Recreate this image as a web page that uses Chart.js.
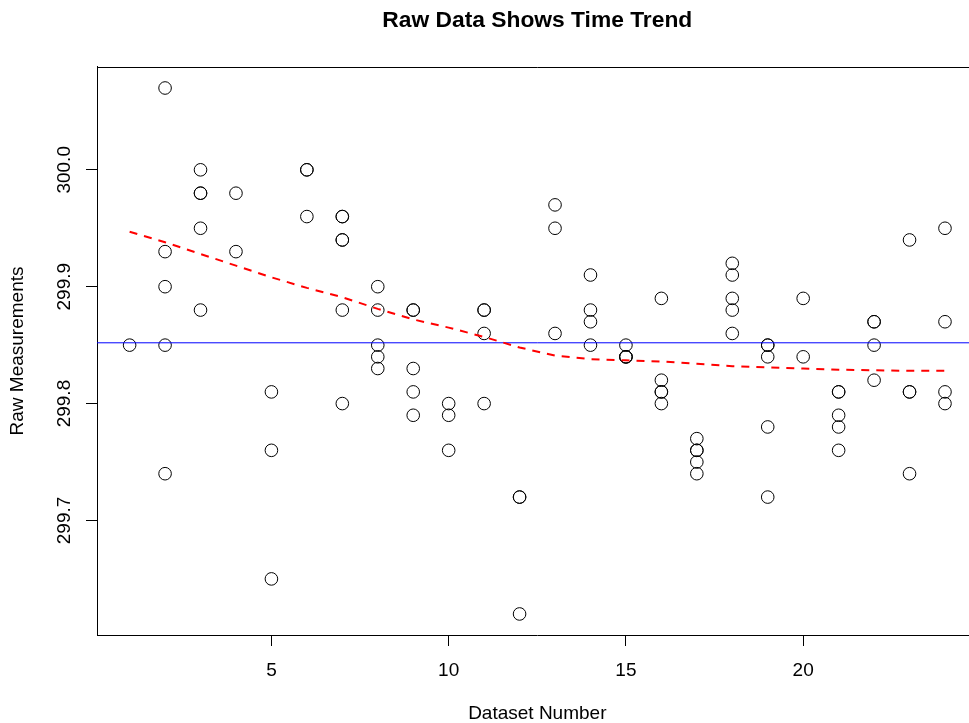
<!DOCTYPE html>
<html>
<head>
<meta charset="utf-8">
<title>Raw Data Shows Time Trend</title>
<script src="https://cdn.jsdelivr.net/npm/chart.js@4"></script>
<style>
  html, body { margin: 0; padding: 0; background: #fff; overflow: hidden; }
  #wrap { width: 1027px; height: 723px; }
</style>
</head>
<body>
<div id="wrap"><canvas id="trendChart" width="1027" height="723"></canvas></div>
<script>
// raw measurements, one entry per run (x = dataset number)
const datasetNumber = [
  1,
  2, 2, 2, 2, 2,
  3, 3, 3, 3, 3,
  4, 4,
  5, 5, 5,
  6, 6, 6,
  7, 7, 7, 7, 7, 7,
  8, 8, 8, 8, 8,
  9, 9, 9, 9, 9,
  10, 10, 10,
  11, 11, 11, 11,
  12, 12, 12,
  13, 13, 13,
  14, 14, 14, 14,
  15, 15, 15, 15,
  16, 16, 16, 16, 16,
  17, 17, 17, 17, 17,
  18, 18, 18, 18, 18,
  19, 19, 19, 19, 19,
  20, 20,
  21, 21, 21, 21, 21,
  22, 22, 22, 22,
  23, 23, 23, 23,
  24, 24, 24, 24
];
const measurement = [
  299.85,
  300.07, 299.93, 299.90, 299.85, 299.74,
  300.00, 299.98, 299.98, 299.95, 299.88,
  299.98, 299.93,
  299.81, 299.76, 299.65,
  300.00, 300.00, 299.96,
  299.96, 299.96, 299.94, 299.94, 299.88, 299.80,
  299.90, 299.88, 299.85, 299.84, 299.83,
  299.88, 299.88, 299.83, 299.81, 299.79,
  299.80, 299.79, 299.76,
  299.88, 299.88, 299.86, 299.80,
  299.72, 299.72, 299.62,
  299.97, 299.95, 299.86,
  299.91, 299.88, 299.87, 299.85,
  299.85, 299.84, 299.84, 299.84,
  299.89, 299.82, 299.81, 299.81, 299.80,
  299.77, 299.76, 299.76, 299.75, 299.74,
  299.92, 299.91, 299.89, 299.88, 299.86,
  299.85, 299.85, 299.84, 299.78, 299.72,
  299.89, 299.84,
  299.81, 299.81, 299.79, 299.78, 299.76,
  299.87, 299.87, 299.85, 299.82,
  299.94, 299.81, 299.81, 299.74,
  299.95, 299.87, 299.81, 299.80
];

// smoothed trend (lowess)
const smoothX = [1, 2, 3, 4, 5, 6, 7, 8, 9, 10, 11, 12, 13, 14, 15, 16, 17, 18, 19, 20, 21, 22, 23, 24];
const smoothY = [
  299.947, 299.938, 299.928, 299.918, 299.908, 299.899, 299.891, 299.881,
  299.872, 299.865, 299.857, 299.848, 299.841, 299.838, 299.837, 299.836,
  299.834, 299.832, 299.831, 299.830, 299.829, 299.8285, 299.828, 299.828
];

// overall mean (blue reference line)
const meanValue = 299.852;

const xTicks = [5, 10, 15, 20];
const yTicks = [299.7, 299.8, 299.9, 300.0];

// R-style axis limits: data range padded by 4%
const padRange = (arr) => {
    const lo = Math.min(...arr), hi = Math.max(...arr);
    const pad = (hi - lo) * 0.04;
    return [lo - pad, hi + pad];
};
const [xMin, xMax] = padRange(datasetNumber);
const [yMin, yMax] = padRange(measurement);

const baseFont = { family: "'Liberation Sans', Arial, Helvetica, sans-serif", size: 19 };

// top edge of the box round the plot region (left/bottom come from the axis borders)
const framePlugin = {
    id: 'frame',
    afterDraw(chart) {
        const { ctx, chartArea: a } = chart;
        const top = Math.round(a.top) + 0.5;
        ctx.save();
        ctx.strokeStyle = '#000';
        ctx.lineWidth = 1;
        ctx.beginPath();
        ctx.moveTo(a.left, top);
        ctx.lineTo(a.right, top);
        ctx.lineTo(a.right, a.bottom);
        ctx.stroke();
        ctx.restore();
    }
};

const renderChart = () => {
    const ctx = document.getElementById('trendChart').getContext('2d');
    const points = datasetNumber.map((x, i) => ({ x, y: measurement[i] }));
    const trend = smoothX.map((x, i) => ({ x, y: smoothY[i] }));

    new Chart(ctx, {
        type: 'scatter',
        data: {
            datasets: [
                {
                    label: 'Measurements',
                    data: points,
                    order: 3,
                    pointStyle: 'circle',
                    pointRadius: 6.3,
                    pointBorderWidth: 1,
                    pointBorderColor: '#000',
                    pointBackgroundColor: 'rgba(0,0,0,0)',
                    showLine: false
                },
                {
                    label: 'Mean',
                    type: 'line',
                    data: [{ x: xMin, y: meanValue }, { x: xMax, y: meanValue }],
                    order: 2,
                    borderColor: '#0000ff',
                    borderWidth: 1,
                    pointRadius: 0,
                    fill: false
                },
                {
                    label: 'Lowess',
                    type: 'line',
                    data: trend,
                    order: 1,
                    borderColor: '#ff0000',
                    borderWidth: 2,
                    borderDash: [8, 7],
                    tension: 0,
                    pointRadius: 0,
                    fill: false
                }
            ]
        },
        options: {
            responsive: false,
            animation: false,
            events: [],
            layout: { padding: { left: 0, right: 49.4, top: 0, bottom: 0 } },
            plugins: {
                legend: { display: false },
                tooltip: { enabled: false },
                title: {
                    display: true,
                    text: 'Raw Data Shows Time Trend',
                    fullSize: false,
                    color: '#000',
                    font: { family: baseFont.family, size: 22.8, weight: 'bold', lineHeight: 1.2 },
                    padding: { top: 7, bottom: 32.6 }
                }
            },
            scales: {
                x: {
                    type: 'linear',
                    min: xMin,
                    max: xMax,
                    afterBuildTicks: (axis) => { axis.ticks = xTicks.map(v => ({ value: v })); },
                    afterFit: (axis) => { axis.height = 88; },
                    grid: { drawOnChartArea: false, drawTicks: true, tickLength: 11, tickColor: '#000' },
                    border: { display: true, color: '#000', width: 1 },
                    ticks: {
                        autoSkip: false,
                        maxRotation: 0,
                        color: '#000',
                        padding: 13,
                        font: { ...baseFont, lineHeight: 1.2 },
                        callback: (v) => String(v)
                    },
                    title: {
                        display: true,
                        text: 'Dataset Number',
                        color: '#000',
                        font: { ...baseFont, lineHeight: 1 },
                        padding: { top: 0, bottom: 0 }
                    }
                },
                y: {
                    type: 'linear',
                    min: yMin,
                    max: yMax,
                    afterBuildTicks: (axis) => { axis.ticks = yTicks.map(v => ({ value: v })); },
                    afterFit: (axis) => { axis.width = 97; },
                    grid: { drawOnChartArea: false, drawTicks: true, tickLength: 11, tickColor: '#000' },
                    border: { display: true, color: '#000', width: 1 },
                    ticks: {
                        autoSkip: false,
                        minRotation: 90,
                        maxRotation: 90,
                        crossAlign: 'center',
                        padding: -3,
                        color: '#000',
                        font: { ...baseFont, lineHeight: 1.2 },
                        callback: (v) => v.toFixed(1)
                    },
                    title: {
                        display: true,
                        text: 'Raw Measurements',
                        color: '#000',
                        font: { ...baseFont, lineHeight: 1.2 },
                        padding: { top: 6.6, bottom: 0 }
                    }
                }
            }
        },
        plugins: [framePlugin]
    });
};

renderChart();
</script>
</body>
</html>
